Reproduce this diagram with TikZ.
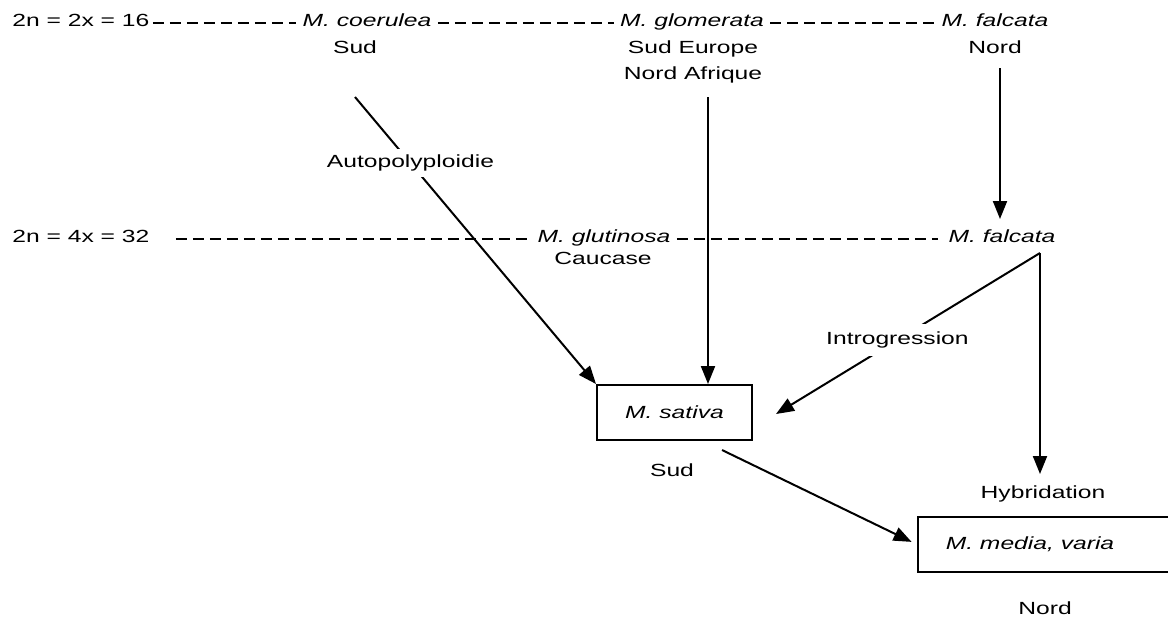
\documentclass[tikz,border=0pt]{standalone}
\usepackage{fontspec}
\setmainfont{Liberation Sans}[FakeStretch=1.4]
\usetikzlibrary{arrows.meta}
\begin{document}
\begin{tikzpicture}[x=0.5pt,y=-0.5pt,
  lbl/.style={inner sep=0pt, font=\fontsize{8.8}{10}\selectfont, anchor=base},
  sp/.style={lbl, font=\fontsize{8.8}{10}\selectfont\itshape},
  dashline/.style={line width=0.8pt, dash pattern=on 5.5pt off 3pt},
  arr/.style={line width=1pt, -{Triangle[length=9pt,width=7pt]}},
  boxn/.style={draw, line width=1pt, inner sep=0pt, minimum height=27.5pt, font=\fontsize{8.8}{10}\selectfont\itshape}
]
\useasboundingbox (0,0) rectangle (1168,623);
% row 1
\node[lbl, anchor=base west] (r1) at (12,26) {2n = 2x = 16};
\node[sp] (coer) at (367,26) {M. coerulea};
\node[lbl] (sud1) at (355,53) {Sud};
\node[sp] (glom) at (692,26) {M. glomerata};
\node[lbl] (se) at (693,53) {Sud Europe};
\node[lbl] (na) at (693,79) {Nord Afrique};
\node[sp] (falc1) at (995,26) {M. falcata};
\node[lbl] (nord1) at (995,53) {Nord};
% row 2
\node[lbl, anchor=base west] (r2) at (12,242) {2n = 4x = 32};
\node[sp] (glut) at (604,242) {M. glutinosa};
\node[lbl] (cauc) at (603,264) {Caucase};
\node[sp] (falc2) at (1002,242) {M. falcata};
% boxes
\node[boxn, minimum width=77.5pt] (sativa) at (674.5,412.5) {M. sativa};
\node[lbl] (sud2) at (672,476) {Sud};
\node[lbl] (hyb) at (1043,498) {Hybridation};
\node[boxn, minimum width=127pt] (media) at (1045,544.5) {\hspace*{-15pt}M. media, varia};
\node[lbl] (nord2) at (1045,614) {Nord};
% dashed lines
\draw[dashline, shorten <=1.5pt, shorten >=3pt] ([yshift=1.5pt]r1.base east) -- ([yshift=1.5pt]coer.base west);
\draw[dashline, shorten <=3pt, shorten >=3pt] ([yshift=1.5pt]coer.base east) -- ([yshift=1.5pt]glom.base west);
\draw[dashline, shorten <=3pt, shorten >=3pt] ([yshift=1.5pt]glom.base east) -- ([yshift=1.5pt]falc1.base west);
\draw[dashline, shorten <=13pt, shorten >=2.5pt] ([yshift=1.5pt]r2.base east) -- ([yshift=1.5pt]glut.base west);
\draw[dashline, shorten <=3pt, shorten >=5pt] ([yshift=1.5pt]glut.base east) -- ([yshift=1.5pt]falc2.base west);
% arrows
\coordinate (c1s) at (355,97);
\coordinate (g1s) at (708,97);
\coordinate (f1s) at (1000,68);
\coordinate (f1e) at (1000,219);
\coordinate (apex) at (1040,253);
\coordinate (introe) at (776,414);
\coordinate (hybe) at (1040,474);
\coordinate (sats) at (722,450);
\draw[arr] (c1s) -- node[lbl, anchor=center, fill=white, inner sep=3pt, pos=0.23] (auto) {Autopolyploidie} (sativa.north west);
\draw[arr] (g1s) -- (g1s |- sativa.north);
\draw[arr] (f1s) -- (f1e);
\draw[arr] (apex) -- node[lbl, anchor=center, fill=white, inner sep=4pt, pos=0.54] (intro) {Introgression} (introe);
\draw[arr] (apex) -- (hybe);
\draw[arr, shorten >=3pt] (sats) -- (media.west);
\end{tikzpicture}
\end{document}
